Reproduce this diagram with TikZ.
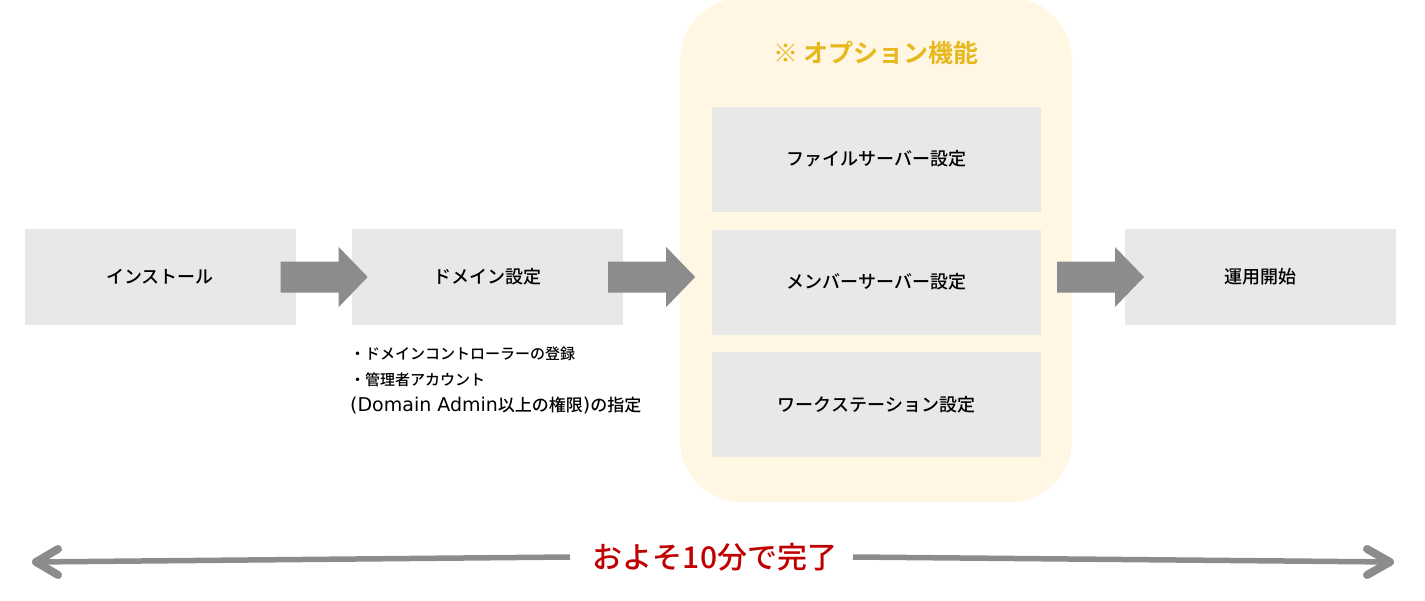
\documentclass[tikz,border=0pt]{standalone}
\usepackage{fontspec}
\setmainfont{Noto Sans CJK JP}[UprightFont=* Medium, BoldFont=* Bold]
\newfontfamily\latinfont{DejaVu Sans}
\usetikzlibrary{calc}
\definecolor{boxgray}{HTML}{E8E8E8}
\definecolor{arrgray}{HTML}{8C8C8C}
\definecolor{panel}{HTML}{FFF7E4}
\definecolor{gold}{HTML}{E6B81C}
\definecolor{darkred}{HTML}{C00000}
\newcommand{\lat}[1]{{\latinfont\fontsize{19}{26}\selectfont #1}}
\newcommand{\bigjp}[1]{{\fontsize{17}{26}\selectfont #1}}
\tikzset{
  stepbox/.style={fill=boxgray, inner sep=0pt, font=\fontsize{18}{20}\selectfont, text=black},
  flowbox/.style={stepbox, minimum width=271pt, minimum height=96pt},
  optbox/.style={stepbox, minimum width=329pt, minimum height=105pt},
  blockarrow/.pic={\fill[arrgray] (0,-15.5) -- (58,-15.5) -- (58,-30) -- (87,0) -- (58,30) -- (58,15.5) -- (0,15.5) -- cycle;},
  spanline/.style={draw=arrgray, line width=5.5pt},
  chev/.style={draw=arrgray, line width=8pt, line cap=round, line join=round}
}
\begin{document}
\begin{tikzpicture}[x=1pt, y=-1pt]
\useasboundingbox (0,0) rectangle (1425,600);
% option panel
\fill[panel, rounded corners=62pt] (680,-2) rectangle (1072,502);
\node[text=gold, font=\fontsize{25}{28}\selectfont\bfseries] (title) at (876,53) {※ オプション機能};
% boxes
\node[flowbox] (install) at (160,277) {インストール};
\node[flowbox] (domain) at (487.5,277) {ドメイン設定};
\node[optbox] (file) at (876.5,159) {ファイルサーバー設定};
\node[optbox] (member) at (876.5,282) {メンバーサーバー設定};
\node[optbox] (ws) at (876.5,404.5) {ワークステーション設定};
\node[flowbox] (start) at (1260.5,277) {運用開始};
\coordinate (panelE) at (1072,277);
\coordinate (panelW) at (680,277);
% block arrows
\pic at ($(install.east)+(-15,0)$) {blockarrow};
\pic at ($(domain.east)+(-15,0)$) {blockarrow};
\pic at ($(panelE)+(-15,0)$) {blockarrow};
% note
\node[anchor=north west, align=left, inner sep=0pt, font=\fontsize{15}{26}\selectfont, text=black] (note) at (350,347)
  {・ドメインコントローラーの登録\\・管理者アカウント\\\lat{(Domain Admin}\bigjp{以上の権限}\lat{)}\bigjp{の指定}};
% bottom span
\node[text=darkred, font=\fontsize{30}{32}\selectfont] (span) at (715,557) {およそ10分で完了};
\coordinate (L) at (33,562);
\coordinate (R) at (1393,562);
\draw[spanline] (L) -- (span.west -| 570,562);
\draw[spanline] (span.east -| 853,562) -- (R);
\draw[chev] (58,549) -- ($(L)+(3,0)$) -- (58,575);
\draw[chev] (1367,549) -- ($(R)+(-3,0)$) -- (1367,575);
\end{tikzpicture}
\end{document}
